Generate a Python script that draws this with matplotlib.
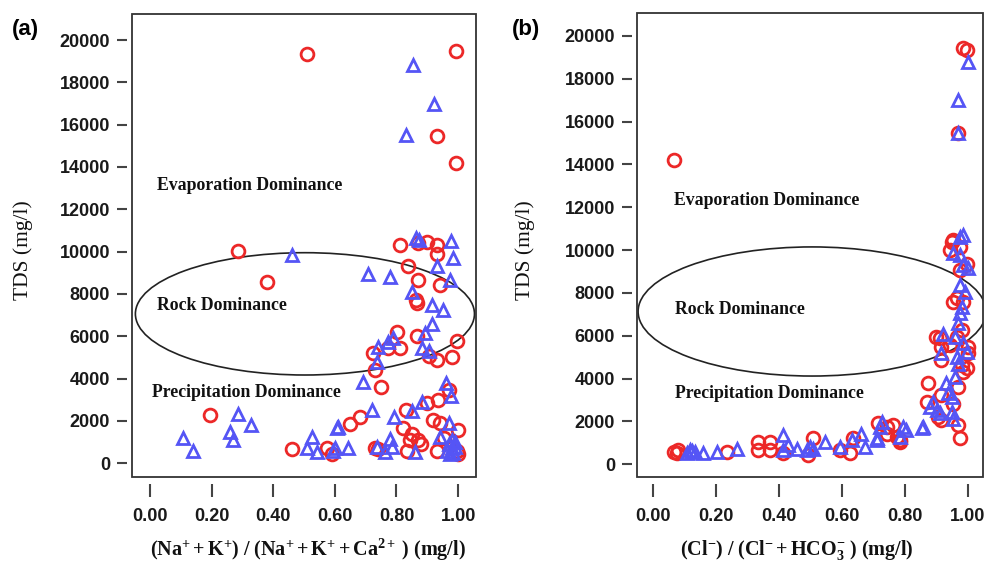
import matplotlib
matplotlib.use('Agg')
import matplotlib.pyplot as plt
from matplotlib.patches import Ellipse, Rectangle
import numpy as np

# panel (a): TDS vs (Na+K)/(Na+K+Ca)
a_red_x = [0.509, 0.992, 0.933, 0.992, 0.287, 0.379, 0.195, 0.460, 0.812, 0.871,
           0.898, 0.931, 0.931, 0.839, 0.871, 0.942, 0.866, 0.862, 0.801, 0.866,
           0.995, 0.774, 0.812, 0.725, 0.904, 0.931, 0.980, 0.731, 0.749, 0.969,
           0.898, 0.936, 0.831, 0.682, 0.649, 0.920, 0.942, 0.998, 0.820, 0.850,
           0.871, 0.844, 0.931, 0.996, 0.998, 0.741, 0.833, 0.574, 0.590, 0.731,
           0.880, 0.955]
a_red_y = [19350, 19500, 15450, 14200, 10050, 8550, 2300, 650, 10300, 10400,
           10450, 10300, 9900, 9300, 8650, 8400, 7550, 7700, 6200, 6000,
           5800, 5450, 5450, 5200, 5050, 4900, 5000, 4400, 3600, 3450,
           2850, 3000, 2500, 2200, 1850, 2050, 1900, 1550, 1650, 1400,
           1100, 1100, 600, 600, 450, 650, 600, 700, 450, 700,
           900, 1200]
a_blue_x = [0.852, 0.922, 0.831, 0.460, 0.864, 0.873, 0.976, 0.983, 0.933, 0.709,
            0.779, 0.974, 0.850, 0.915, 0.952, 0.915, 0.893, 0.790, 0.774, 0.741,
            0.882, 0.904, 0.736, 0.690, 0.961, 0.976, 0.882, 0.850, 0.720, 0.792,
            0.969, 0.608, 0.942, 0.979, 0.990, 0.974, 0.779, 0.784, 0.736, 0.763,
            0.860, 0.644, 0.595, 0.287, 0.327, 0.260, 0.271, 0.106, 0.139, 0.525,
            0.509, 0.541, 0.611, 0.601, 0.980, 0.970, 0.985, 0.965, 0.990]
a_blue_y = [18800, 17000, 15500, 9850, 10650, 10550, 10500, 9700, 9300, 8950,
            8800, 8650, 8100, 7500, 7250, 6600, 6150, 5900, 5750, 5500,
            5450, 5300, 4800, 3850, 3800, 3200, 2900, 2450, 2500, 2200,
            1900, 1650, 1250, 1100, 750, 450, 1150, 750, 750, 550,
            550, 700, 600, 2350, 1800, 1500, 1100, 1200, 600, 1250,
            700, 550, 1700, 700, 700, 900, 500, 600, 1000]

# panel (b): TDS vs Cl/(Cl+HCO3)
b_red_x = [0.985, 0.996, 0.969, 0.065, 0.953, 0.975, 0.943, 0.948, 0.975, 0.996,
           0.964, 0.985, 0.953, 0.980, 0.911, 0.943, 0.916, 1.001, 1.001, 0.916,
           0.980, 0.985, 0.874, 0.969, 0.869, 0.906, 0.916, 0.969, 0.975, 0.763,
           0.784, 0.742, 0.715, 0.742, 0.774, 0.065, 0.080, 0.075, 0.236, 0.334,
           0.334, 0.371, 0.371, 0.414, 0.493, 0.509, 0.594, 0.625, 0.636, 0.784,
           0.900, 0.964, 0.996, 0.916, 0.953]
b_red_y = [19450, 19350, 15450, 14200, 10450, 10150, 9990, 10380, 9060, 9370,
           7740, 7580, 7580, 6260, 5870, 5560, 5480, 5480, 5170, 4860,
           4620, 4310, 3770, 3610, 2910, 2210, 2050, 1820, 1200, 1820,
           1040, 1740, 1900, 1430, 1270, 570, 650, 500, 570, 1040,
           650, 1040, 650, 500, 420, 1200, 650, 500, 1200, 1120,
           5950, 5950, 4470, 3220, 2830]
b_blue_x = [1.001, 0.969, 0.969, 0.985, 0.975, 0.953, 0.975, 0.985, 1.001, 0.975,
            0.990, 0.980, 0.975, 0.969, 0.920, 0.959, 0.985, 0.996, 0.916, 0.964,
            0.969, 0.959, 0.932, 0.937, 0.948, 0.890, 0.901, 0.911, 0.879, 0.948,
            0.953, 0.858, 0.795, 0.805, 0.853, 0.784, 0.726, 0.710, 0.117, 0.107,
            0.133, 0.160, 0.202, 0.266, 0.414, 0.414, 0.456, 0.488, 0.509, 0.546,
            0.594, 0.631, 0.662, 0.673, 0.710, 0.721, 0.125, 0.430, 0.500]
b_blue_y = [18800, 17000, 15450, 10700, 10600, 9840, 9760, 9290, 9140, 8360,
            8050, 7350, 7040, 6570, 6100, 5950, 5640, 5240, 5170, 5010,
            4700, 4080, 3770, 3300, 3140, 2910, 2520, 2370, 2680, 2440,
            2130, 1740, 1740, 1590, 1670, 1270, 1980, 1120, 650, 500,
            570, 500, 570, 730, 1350, 650, 730, 650, 730, 1040,
            810, 1120, 1430, 810, 1200, 1740, 600, 900, 800]

xtick_vals = [0.0, 0.2, 0.4, 0.6, 0.8, 1.0]
xtick_labels = ['0.00', '0.20', '0.40', '0.60', '0.80', '1.00']
ytick_vals = [0, 2000, 4000, 6000, 8000, 10000, 12000, 14000, 16000, 18000, 20000]
ytick_labels = ['0', '2000', '4000', '6000', '8000', '10000', '12000', '14000',
                '16000', '18000', '20000']

plt.rcParams['font.family'] = 'Liberation Sans'
plt.rcParams['mathtext.fontset'] = 'custom'
plt.rcParams['mathtext.rm'] = 'Liberation Serif'
plt.rcParams['mathtext.bf'] = 'Liberation Serif:bold'
plt.rcParams['mathtext.it'] = 'Liberation Serif:italic'

RED = '#ec2828'
BLUE = '#5555f5'
W, H = 989, 562

fig = plt.figure(figsize=(W / 100, H / 100), dpi=100, facecolor='w')
ax_a = fig.add_axes([132 / W, 1 - 477 / H, 344 / W, 463 / H])
ax_b = fig.add_axes([637 / W, 1 - 477 / H, 346 / W, 464 / H])


def style_axes(ax, xlim, ylim):
    ax.set_xlim(*xlim)
    ax.set_ylim(*ylim)
    for s in ['top', 'right']:
        ax.spines[s].set_visible(False)
    # ticks sit slightly away from the frame, like the original
    ax.spines['bottom'].set_position(('outward', 5))
    ax.spines['left'].set_position(('outward', 3.3))
    ax.spines['bottom'].set_color('none')
    ax.spines['left'].set_color('none')
    ax.add_patch(Rectangle((0, 0), 1, 1, transform=ax.transAxes, fill=False,
                           ec='#333333', lw=1.3, clip_on=False, zorder=5))
    ax.set_xticks(xtick_vals)
    ax.set_xticklabels(xtick_labels)
    ax.set_yticks(ytick_vals)
    ax.set_yticklabels(ytick_labels)
    ax.tick_params(axis='x', length=9, width=1.5, color='#444444', pad=8,
                   labelsize=13, labelcolor='#1a1a1a')
    ax.tick_params(axis='y', length=7, width=1.5, color='#444444', pad=5.5,
                   labelsize=13, labelcolor='#1a1a1a')
    for lab in ax.get_xticklabels() + ax.get_yticklabels():
        lab.set_fontweight('bold')


def draw_points(ax, rx, ry, bx, by):
    ax.plot(rx, ry, linestyle='none', marker='o', ms=9.2, mfc='none',
            mec=RED, mew=2.0, clip_on=False, zorder=3)
    ax.plot(bx, by, linestyle='none', marker='^', ms=9.0, mfc='none',
            mec=BLUE, mew=2.0, clip_on=False, zorder=4)


def region_labels(ax, pos):
    names = ['Evaporation Dominance', 'Rock Dominance', 'Precipitation Dominance']
    for name, (x, y) in zip(names, pos):
        ax.text(x, y, name, family='Liberation Serif', fontweight='bold',
                fontsize=12.8, va='center', ha='left', color='#111111')


style_axes(ax_a, (-0.058, 1.058), (-650, 21230))
draw_points(ax_a, a_red_x, a_red_y, a_blue_x, a_blue_y)
ax_a.add_patch(Ellipse((0.503, 7060), 1.10, 5780, fill=False, ec='#222222',
                       lw=1.2, zorder=2))
region_labels(ax_a, [(0.023, 13130), (0.023, 7440), (0.006, 3320)])

style_axes(ax_b, (-0.051, 1.048), (-600, 21070))
draw_points(ax_b, b_red_x, b_red_y, b_blue_x, b_blue_y)
ax_b.add_patch(Ellipse((0.505, 7130), 1.105, 6030, fill=False, ec='#222222',
                       lw=1.2, zorder=2))
region_labels(ax_b, [(0.067, 12330), (0.070, 7240), (0.070, 3320)])

# axis titles
fig.text(23 / W, 1 - 250 / H, 'TDS (mg/l)', rotation=90, family='Liberation Serif',
         fontsize=15.5, va='center', ha='center', color='#111111')
fig.text(525 / W, 1 - 250 / H, 'TDS (mg/l)', rotation=90, family='Liberation Serif',
         fontsize=15.5, va='center', ha='center', color='#111111')
fig.text(308 / W, 1 - 550 / H,
         r'$\mathbf{(Na^{+} + K^{+})\ /\ (Na^{+} + K^{+} + Ca^{2+}\ )\ (mg/l)}$',
         fontsize=14.5, va='center', ha='center', color='#111111')
fig.text(797 / W, 1 - 550 / H,
         r'$\mathbf{(Cl^{-})\ /\ (Cl^{-} + HCO_{3}^{-}\ )\ (mg/l)}$',
         fontsize=14.5, va='center', ha='center', color='#111111')

fig.text(12 / W, 1 - 29 / H, '(a)', fontsize=16, fontweight='bold', va='center', ha='left')
fig.text(512 / W, 1 - 29 / H, '(b)', fontsize=16, fontweight='bold', va='center', ha='left')

fig.savefig('out.png', dpi=100, facecolor='w')
